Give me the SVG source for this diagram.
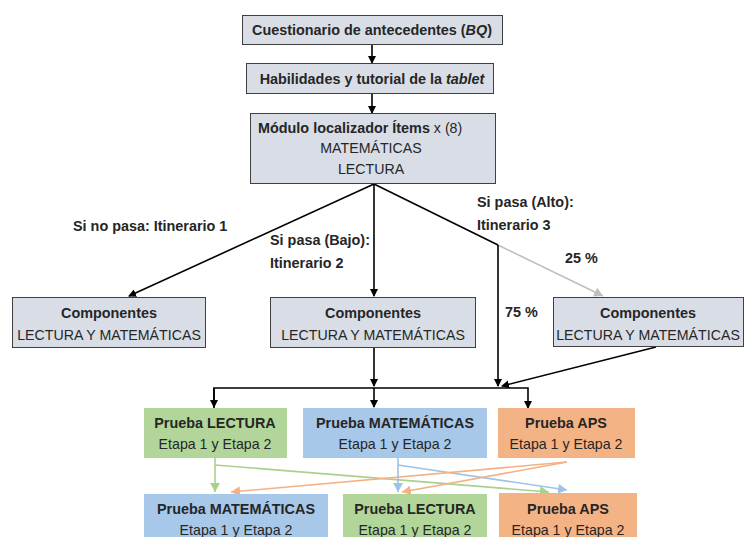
<svg xmlns="http://www.w3.org/2000/svg" width="745" height="537" viewBox="0 0 745 537">
<defs>
<style>
text{font-family:"Liberation Sans",Arial,sans-serif;font-size:14.2px;fill:#262626}
.b{font-weight:bold;font-size:14.4px}
.c{text-anchor:middle}
.gray{fill:#D9DEE6;stroke:#404040;stroke-width:1}
.g{fill:#B2D699}
.bl{fill:#A7C8E9}
.o{fill:#F4B385}
.k{stroke:#000;stroke-width:1.6;fill:none}
</style>
<marker id="ak" markerWidth="8" markerHeight="8" refX="7" refY="4" orient="auto" markerUnits="userSpaceOnUse"><path d="M0,0 L8,4 L0,8 Z" fill="#000"/></marker>
<marker id="ag" markerWidth="10" markerHeight="10" refX="9" refY="5" orient="auto" markerUnits="userSpaceOnUse"><path d="M0,0 L9,5 L0,10 Z" fill="#BFBFBF"/></marker>
<marker id="agr" markerWidth="10" markerHeight="10" refX="9" refY="5" orient="auto" markerUnits="userSpaceOnUse"><path d="M0,0 L9,5 L0,10 Z" fill="#A9D18E"/></marker>
<marker id="abl" markerWidth="10" markerHeight="10" refX="9" refY="5" orient="auto" markerUnits="userSpaceOnUse"><path d="M0,0 L9,5 L0,10 Z" fill="#9DC3E6"/></marker>
<marker id="aor" markerWidth="10" markerHeight="10" refX="9" refY="5" orient="auto" markerUnits="userSpaceOnUse"><path d="M0,0 L9,5 L0,10 Z" fill="#F4B183"/></marker>
</defs>
<rect width="745" height="537" fill="#fff"/>

<g id="connectors">
<line class="k" x1="372" y1="45" x2="372" y2="63" marker-end="url(#ak)"/>
<line class="k" x1="372" y1="93" x2="372" y2="113" marker-end="url(#ak)"/>
<line class="k" x1="374" y1="184" x2="129" y2="296" marker-end="url(#ak)"/>
<line class="k" x1="374" y1="184" x2="374" y2="296" marker-end="url(#ak)"/>
<line class="k" x1="374" y1="184" x2="498" y2="245"/>
<line x1="498" y1="245" x2="603" y2="296" stroke="#BFBFBF" stroke-width="1.6" marker-end="url(#ag)"/>
<line class="k" x1="498" y1="245" x2="498" y2="386" marker-end="url(#ak)"/>
<line class="k" x1="374" y1="347" x2="374" y2="386" marker-end="url(#ak)"/>
<line class="k" x1="656" y1="347" x2="502" y2="386" marker-end="url(#ak)"/>
<polyline class="k" points="214,408 214,388 528,388 528,408" marker-end="url(#ak)"/>
<line class="k" x1="214" y1="388" x2="214" y2="407" marker-end="url(#ak)"/>
<line class="k" x1="374" y1="388" x2="374" y2="407" marker-end="url(#ak)"/>
<g fill="none" stroke-width="1.6">
<line x1="215" y1="458" x2="215" y2="492" stroke="#A9D18E" marker-end="url(#agr)"/>
<line x1="215" y1="465" x2="549" y2="492" stroke="#A9D18E" marker-end="url(#agr)"/>
<line x1="398" y1="458" x2="398" y2="492" stroke="#9DC3E6" marker-end="url(#abl)"/>
<line x1="398" y1="465" x2="567" y2="490" stroke="#9DC3E6" marker-end="url(#abl)"/>
<line x1="567" y1="462" x2="231" y2="492" stroke="#F4B183" marker-end="url(#aor)"/>
<line x1="567" y1="462" x2="402" y2="492" stroke="#F4B183" marker-end="url(#aor)"/>
</g>
</g>

<g id="bq">
<rect class="gray" x="242.5" y="15.5" width="260" height="29"/>
<text class="b c" x="372" y="35">Cuestionario de antecedentes (<tspan font-style="italic">BQ</tspan>)</text>
</g>
<g id="tablet">
<rect class="gray" x="246.5" y="63.5" width="247" height="30"/>
<text class="b c" x="372" y="84">Habilidades y tutorial de la <tspan font-style="italic">tablet</tspan></text>
</g>
<g id="modulo">
<rect class="gray" x="250.5" y="113.5" width="245" height="70"/>
<text x="258" y="133"><tspan class="b">Módulo localizador Ítems</tspan> x (8)</text>
<text class="c" x="371" y="153">MATEMÁTICAS</text>
<text class="c" x="371" y="174">LECTURA</text>
</g>

<g id="labels">
<text class="b" x="73" y="231">Si no pasa: Itinerario 1</text>
<text class="b" x="270" y="245">Si pasa (Bajo):</text>
<text class="b" x="270" y="268">Itinerario 2</text>
<text class="b" x="477" y="207">Si pasa (Alto):</text>
<text class="b" x="477" y="230">Itinerario 3</text>
<text class="b" x="565" y="263">25 %</text>
<text class="b" x="505" y="317">75 %</text>
</g>

<g id="comp1">
<rect class="gray" x="12.5" y="297.5" width="193" height="50"/>
<text class="b c" x="109" y="318">Componentes</text>
<text class="c" x="109" y="340">LECTURA Y MATEMÁTICAS</text>
</g>
<g id="comp2">
<rect class="gray" x="270.5" y="297.5" width="205" height="50"/>
<text class="b c" x="373" y="318">Componentes</text>
<text class="c" x="373" y="340">LECTURA Y MATEMÁTICAS</text>
</g>
<g id="comp3">
<rect class="gray" x="553.5" y="297.5" width="190" height="49"/>
<text class="b c" x="648" y="318">Componentes</text>
<text class="c" x="648" y="340">LECTURA Y MATEMÁTICAS</text>
</g>

<g id="p-lectura-1">
<rect class="g" x="144" y="408" width="143" height="50"/>
<text class="b c" x="215" y="428">Prueba LECTURA</text>
<text class="c" x="215" y="449">Etapa 1 y Etapa 2</text>
</g>
<g id="p-mat-1">
<rect class="bl" x="303" y="408" width="184" height="50"/>
<text class="b c" x="395" y="428">Prueba MATEMÁTICAS</text>
<text class="c" x="395" y="449">Etapa 1 y Etapa 2</text>
</g>
<g id="p-aps-1">
<rect class="o" x="498" y="408" width="137" height="50"/>
<text class="b c" x="566" y="428">Prueba APS</text>
<text class="c" x="566" y="449">Etapa 1 y Etapa 2</text>
</g>

<g id="p-mat-2">
<rect class="bl" x="144" y="494" width="184" height="50"/>
<text class="b c" x="236" y="514">Prueba MATEMÁTICAS</text>
<text class="c" x="236" y="535">Etapa 1 y Etapa 2</text>
</g>
<g id="p-lectura-2">
<rect class="g" x="343" y="494" width="144" height="50"/>
<text class="b c" x="415" y="514">Prueba LECTURA</text>
<text class="c" x="415" y="535">Etapa 1 y Etapa 2</text>
</g>
<g id="p-aps-2">
<rect class="o" x="499" y="493" width="138" height="50"/>
<text class="b c" x="568" y="514">Prueba APS</text>
<text class="c" x="568" y="535">Etapa 1 y Etapa 2</text>
</g>
</svg>
